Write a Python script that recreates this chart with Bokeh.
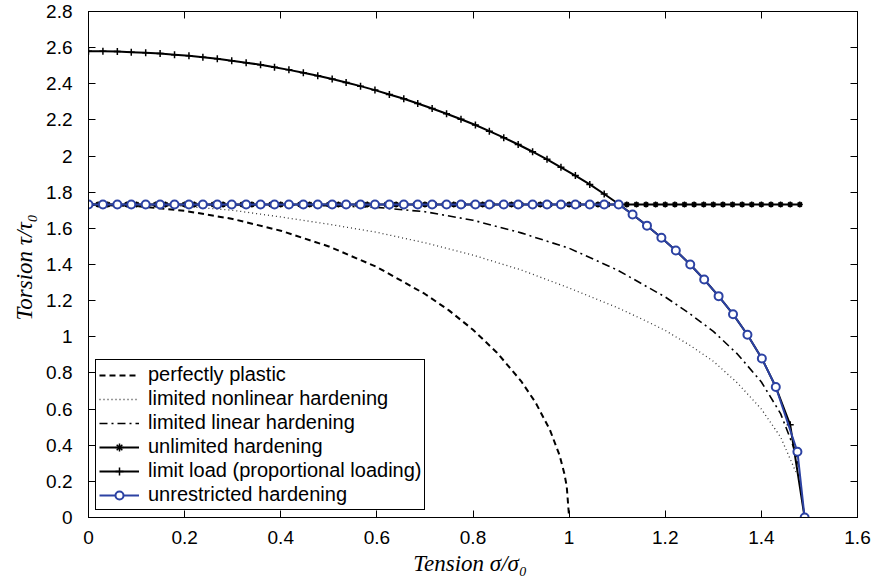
from bokeh.plotting import figure
from bokeh.models import FixedTicker, LinearAxis, Range1d
from bokeh.embed import file_html
from bokeh.resources import INLINE

# ---------------- data ----------------
x_ticks = [0, 0.2, 0.4, 0.6, 0.8, 1.0, 1.2, 1.4, 1.6]
x_tick_labels = ["0", "0.2", "0.4", "0.6", "0.8", "1", "1.2", "1.4", "1.6"]
y_ticks = [0, 0.2, 0.4, 0.6, 0.8, 1.0, 1.2, 1.4, 1.6, 1.8, 2.0, 2.2, 2.4, 2.6, 2.8]
y_tick_labels = ["0", "0.2", "0.4", "0.6", "0.8", "1", "1.2", "1.4", "1.6", "1.8",
                 "2", "2.2", "2.4", "2.6", "2.8"]

# perfectly plastic
pp_sigma = [0.0, 0.1, 0.2, 0.3, 0.4, 0.5, 0.6, 0.7, 0.75, 0.8, 0.85, 0.9, 0.93, 0.96, 0.98, 0.99, 0.995, 1.0]
pp_tau = [1.732, 1.723, 1.697, 1.652, 1.587, 1.500, 1.386, 1.237, 1.146, 1.039, 0.912, 0.755, 0.637, 0.485, 0.345, 0.244, 0.173, 0.0]

# limited nonlinear hardening
ln_sigma = [0.0, 0.1, 0.2, 0.3, 0.4, 0.5, 0.6, 0.7, 0.8, 0.9, 1.0, 1.1, 1.15, 1.2, 1.25, 1.3, 1.35, 1.4, 1.44, 1.472]
ln_tau = [1.732, 1.730, 1.722, 1.700, 1.663, 1.623, 1.578, 1.520, 1.452, 1.370, 1.270, 1.162, 1.100, 1.035, 0.955, 0.865, 0.745, 0.600, 0.445, 0.250]

# limited linear hardening
ll_sigma = [0.0, 0.2, 0.4, 0.5, 0.6, 0.7, 0.8, 0.9, 1.0, 1.1, 1.2, 1.25, 1.3, 1.35, 1.4, 1.44, 1.467, 1.478]
ll_tau = [1.732, 1.732, 1.730, 1.725, 1.716, 1.692, 1.645, 1.575, 1.490, 1.370, 1.220, 1.130, 1.030, 0.905, 0.750, 0.575, 0.390, 0.280]

# unlimited hardening
uh_sigma = [0.00, 0.02, 0.04, 0.06, 0.08, 0.10, 0.12, 0.14, 0.16, 0.18,
            0.20, 0.22, 0.24, 0.26, 0.28, 0.30, 0.32, 0.34, 0.36, 0.38,
            0.40, 0.42, 0.44, 0.46, 0.48, 0.50, 0.52, 0.54, 0.56, 0.58,
            0.60, 0.62, 0.64, 0.66, 0.68, 0.70, 0.72, 0.74, 0.76, 0.78,
            0.80, 0.82, 0.84, 0.86, 0.88, 0.90, 0.92, 0.94, 0.96, 0.98,
            1.00, 1.02, 1.04, 1.06, 1.08, 1.10, 1.12, 1.14, 1.16, 1.18,
            1.20, 1.22, 1.24, 1.26, 1.28, 1.30, 1.32, 1.34, 1.36, 1.38,
            1.40, 1.42, 1.44, 1.46, 1.48]
uh_tau = [1.732, 1.732, 1.732, 1.732, 1.732, 1.732, 1.732, 1.732, 1.732, 1.732,
          1.732, 1.732, 1.732, 1.732, 1.732, 1.732, 1.732, 1.732, 1.732, 1.732,
          1.732, 1.732, 1.732, 1.732, 1.732, 1.732, 1.732, 1.732, 1.732, 1.732,
          1.732, 1.732, 1.732, 1.732, 1.732, 1.732, 1.732, 1.732, 1.732, 1.732,
          1.732, 1.732, 1.732, 1.732, 1.732, 1.732, 1.732, 1.732, 1.732, 1.732,
          1.732, 1.732, 1.732, 1.732, 1.732, 1.732, 1.732, 1.732, 1.732, 1.732,
          1.732, 1.732, 1.732, 1.732, 1.732, 1.732, 1.732, 1.732, 1.732, 1.732,
          1.732, 1.732, 1.732, 1.732, 1.732]

# limit load (proportional loading)
lim_sigma = [0.000, 0.030, 0.060, 0.089, 0.119, 0.149, 0.179, 0.209, 0.238, 0.268,
             0.298, 0.328, 0.358, 0.387, 0.417, 0.447, 0.477, 0.507, 0.536, 0.566,
             0.596, 0.626, 0.656, 0.685, 0.715, 0.745, 0.775, 0.805, 0.834, 0.864,
             0.894, 0.924, 0.954, 0.983, 1.013, 1.043, 1.073, 1.103, 1.132, 1.162,
             1.192, 1.222, 1.252, 1.281, 1.311, 1.341, 1.371, 1.401, 1.430, 1.460,
             1.490]
lim_tau = [2.580, 2.580, 2.578, 2.575, 2.572, 2.567, 2.561, 2.555, 2.547, 2.538,
           2.528, 2.517, 2.505, 2.491, 2.477, 2.461, 2.444, 2.426, 2.407, 2.387,
           2.365, 2.341, 2.317, 2.291, 2.263, 2.234, 2.204, 2.172, 2.138, 2.102,
           2.064, 2.024, 1.982, 1.938, 1.892, 1.843, 1.790, 1.735, 1.677, 1.615,
           1.548, 1.477, 1.400, 1.317, 1.225, 1.125, 1.011, 0.880, 0.722, 0.513,
           0.000]

# unrestricted hardening
ur_sigma = [0.000, 0.030, 0.060, 0.089, 0.119, 0.149, 0.179, 0.209, 0.238, 0.268,
            0.298, 0.328, 0.358, 0.387, 0.417, 0.447, 0.477, 0.507, 0.536, 0.566,
            0.596, 0.626, 0.656, 0.685, 0.715, 0.745, 0.775, 0.805, 0.834, 0.864,
            0.894, 0.924, 0.954, 0.983, 1.013, 1.043, 1.073, 1.103, 1.132, 1.162,
            1.192, 1.222, 1.252, 1.281, 1.311, 1.341, 1.371, 1.401, 1.430, 1.475,
            1.490]
ur_tau = [1.732, 1.732, 1.732, 1.732, 1.732, 1.732, 1.732, 1.732, 1.732, 1.732,
          1.732, 1.732, 1.732, 1.732, 1.732, 1.732, 1.732, 1.732, 1.732, 1.732,
          1.732, 1.732, 1.732, 1.732, 1.732, 1.732, 1.732, 1.732, 1.732, 1.732,
          1.732, 1.732, 1.732, 1.732, 1.732, 1.732, 1.732, 1.732, 1.677, 1.615,
          1.548, 1.477, 1.400, 1.317, 1.225, 1.125, 1.011, 0.880, 0.722, 0.364,
          0.000]

# ---------------- figure ----------------
p = figure(width=876, height=586, x_range=Range1d(0, 1.6), y_range=Range1d(0, 2.8),
           output_backend="svg", toolbar_location=None,
           min_border_left=88, min_border_right=19, min_border_top=11, min_border_bottom=69)
p.background_fill_color = "white"
p.border_fill_color = "white"
p.outline_line_color = "black"
p.outline_line_width = 1
p.xgrid.visible = False
p.ygrid.visible = False

TICK_FONT = "Liberation Sans"
for ax, ticks, labels in ((p.xaxis[0], x_ticks, x_tick_labels), (p.yaxis[0], y_ticks, y_tick_labels)):
    ax.ticker = FixedTicker(ticks=ticks)
    ax.major_label_overrides = dict(zip(ticks, labels))
    ax.major_tick_in = 7
    ax.major_tick_out = 0
    ax.minor_tick_line_color = None
    ax.axis_line_color = "black"
    ax.major_tick_line_color = "black"
    ax.major_label_text_font = TICK_FONT
    ax.major_label_text_font_size = "19px"
    ax.major_label_text_color = "black"
    ax.axis_label_text_font = "Liberation Serif"
    ax.axis_label_text_font_style = "italic"
    ax.axis_label_text_font_size = "23px"
    ax.axis_label_text_color = "black"

p.xaxis[0].axis_label = "Tension  σ/σ₀"
p.yaxis[0].axis_label = "Torsion  τ/τ₀"
p.xaxis[0].major_label_standoff = 13
p.yaxis[0].major_label_standoff = 16
p.xaxis[0].axis_label_standoff = 4
p.yaxis[0].axis_label_standoff = 6

# mirrored ticks on top and right (box)
top_ax = LinearAxis(ticker=FixedTicker(ticks=x_ticks),
                    major_label_overrides={t: "" for t in x_ticks})
right_ax = LinearAxis(ticker=FixedTicker(ticks=y_ticks),
                      major_label_overrides={t: "" for t in y_ticks})
for ax in (top_ax, right_ax):
    ax.major_tick_in = 7
    ax.major_tick_out = 0
    ax.minor_tick_line_color = None
    ax.axis_line_color = "black"
    ax.major_label_standoff = 0
    ax.major_label_text_font_size = "1px"
p.add_layout(top_ax, "above")
p.add_layout(right_ax, "right")

BLUE = "#2c42a3"

p.line(pp_sigma, pp_tau, line_color="black", line_width=2, line_dash="6 4",
       legend_label="perfectly plastic")
p.line(ln_sigma, ln_tau, line_color="#333333", line_width=1.3, line_dash="1 3",
       legend_label="limited nonlinear hardening")
p.line(ll_sigma, ll_tau, line_color="black", line_width=1.6, line_dash="8 4 2 4",
       legend_label="limited linear hardening")
p.line(uh_sigma, uh_tau, line_color="black", line_width=2, legend_label="unlimited hardening")
p.scatter(uh_sigma, uh_tau, marker="asterisk", size=6, line_color="black", line_width=1.5,
          legend_label="unlimited hardening")
p.line(lim_sigma, lim_tau, line_color="black", line_width=2,
       legend_label="limit load (proportional loading)")
p.scatter(lim_sigma, lim_tau, marker="cross", size=7, line_color="black", line_width=1.5,
          legend_label="limit load (proportional loading)")
p.line(ur_sigma, ur_tau, line_color=BLUE, line_width=2, legend_label="unrestricted hardening")
p.scatter(ur_sigma, ur_tau, marker="circle", size=8, line_color=BLUE, fill_color="white",
          line_width=2, legend_label="unrestricted hardening")

lg = p.legend[0]
lg.location = "bottom_left"
lg.margin = 7
lg.padding = 3
lg.spacing = 1
lg.glyph_width = 40
lg.glyph_height = 20
lg.label_height = 20
lg.label_standoff = 9
lg.label_text_font = "Liberation Sans"
lg.label_text_font_size = "20px"
lg.label_text_color = "black"
lg.border_line_color = "black"
lg.border_line_alpha = 1.0
lg.border_line_width = 1
lg.background_fill_color = "white"
lg.background_fill_alpha = 1.0

open("out.html", "w").write(file_html(p, INLINE))
